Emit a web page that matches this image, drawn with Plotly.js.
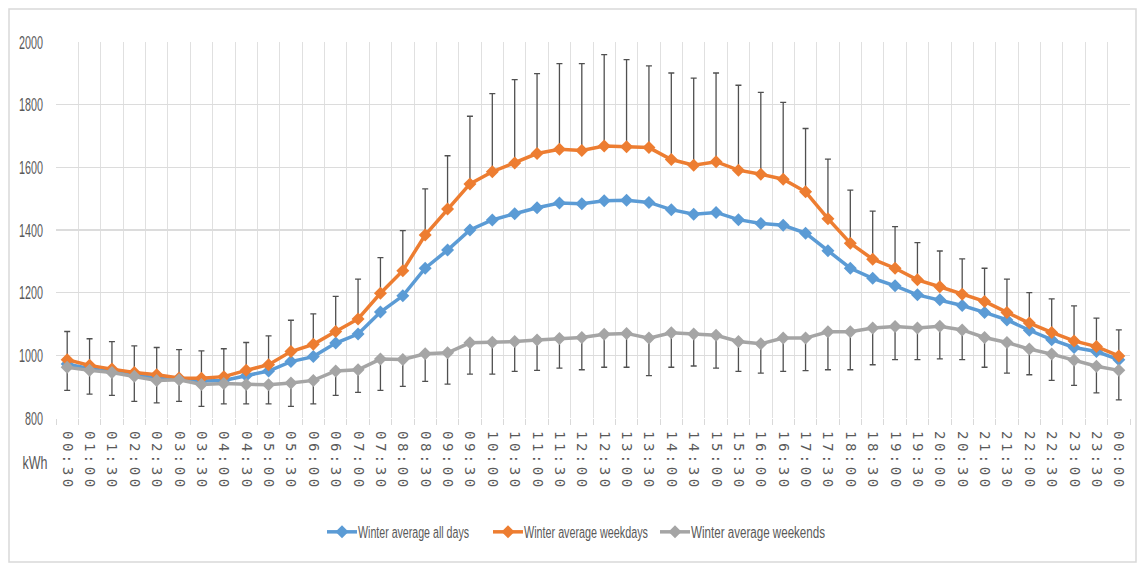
<!DOCTYPE html>
<html>
<head>
<meta charset="utf-8">
<script src="https://cdn.plot.ly/plotly-3.0.1.min.js"></script>
<style>
  html, body { margin: 0; padding: 0; background: #fff; }
  #chart { width: 1137px; height: 563px; }
  .xtick text { letter-spacing: 3.5px; }
</style>
</head>
<body>
<div id="chart"></div>
<script>
const times = ["00:30","01:00","01:30","02:00","02:30","03:00","03:30","04:00","04:30","05:00","05:30","06:00",
  "06:30","07:00","07:30","08:00","08:30","09:00","09:30","10:00","10:30","11:00","11:30","12:00",
  "12:30","13:00","13:30","14:00","14:30","15:00","15:30","16:00","16:30","17:00","17:30","18:00",
  "18:30","19:00","19:30","20:00","20:30","21:00","21:30","22:00","22:30","23:00","23:30","00:00"];

const allDays = [972,958,948,938,928,925,918,920,935,950,980,996,
  1039,1068,1138,1190,1278,1336,1400,1432,1452,1471,1486,1484,
  1493,1495,1488,1465,1450,1456,1433,1421,1415,1390,1334,1278,
  1246,1222,1193,1177,1159,1137,1113,1080,1050,1025,1012,986];

const weekdays = [986,968,956,945,938,928,927,932,952,970,1012,1035,
  1076,1116,1198,1270,1384,1467,1547,1586,1614,1644,1658,1654,
  1668,1666,1663,1625,1607,1618,1591,1578,1562,1522,1436,1358,
  1307,1278,1241,1219,1195,1172,1137,1103,1073,1046,1028,998];

const weekends = [962,952,945,933,920,922,907,910,907,906,912,920,
  950,954,988,987,1005,1008,1040,1042,1044,1049,1054,1057,
  1067,1070,1055,1072,1068,1064,1044,1037,1055,1055,1075,1075,
  1087,1092,1087,1093,1081,1057,1041,1020,1004,984,965,952];

// upper end of the weekday error bars (kWh)
const weekdaysUpper = [1076,1053,1044,1030,1025,1018,1014,1021,1041,1062,1112,1132,
  1188,1243,1312,1398,1531,1637,1763,1835,1880,1899,1931,1931,
  1960,1944,1924,1901,1885,1901,1862,1839,1807,1724,1626,1527,
  1460,1411,1360,1333,1308,1278,1243,1200,1180,1158,1119,1081];

// lower end of the weekend error bars (kWh)
const weekendsLower = [888,876,872,853,848,853,837,845,845,845,837,845,
  872,882,888,901,917,908,940,940,949,952,959,954,
  962,962,935,962,966,959,949,943,949,951,954,954,
  970,986,986,989,986,962,943,938,920,904,880,858];

const seriesNames = ["Winter average all days","Winter average weekdays","Winter average weekends"];
const colors = ["#5B9BD5","#ED7D31","#A5A5A5"];

const sans = "Liberation Sans, Arial, sans-serif";
const errColor = "#505050";
function base(name, y, color) {
  return {
    type: "scatter", mode: "lines+markers", x: times, y: y, name: name,
    line: { color: color, width: 3.5 },
    marker: { symbol: "diamond", size: 10, color: color }
  };
}

const t1 = base(seriesNames[0], allDays, colors[0]);
const t2 = base(seriesNames[1], weekdays, colors[1]);
t2.error_y = { type: "data", symmetric: false,
  array: weekdaysUpper.map((u, i) => u - weekdays[i]),
  arrayminus: weekdays.map(() => 0),
  color: errColor, thickness: 1.3, width: 3 };
const t3 = base(seriesNames[2], weekends, colors[2]);
t3.error_y = { type: "data", symmetric: false,
  array: weekends.map(() => 0),
  arrayminus: weekends.map((v, i) => v - weekendsLower[i]),
  color: errColor, thickness: 1.3, width: 3 };

const layout = {
  width: 1137, height: 563,
  margin: { l: 56, r: 7, t: 42, b: 145 },
  paper_bgcolor: "#fff", plot_bgcolor: "#fff",
  showlegend: true,
  legend: { orientation: "h", x: 0.5, xanchor: "center", y: -0.303, yanchor: "middle",
    font: { family: sans, size: 16, color: "#595959" },
    itemwidth: 30, tracegroupgap: 0 },
  xaxis: {
    type: "category", range: [-0.5, 47.5], tickson: "boundaries",
    tickangle: 90, ticks: "outside", ticklen: 6, tickcolor: "#d9d9d9",
    showgrid: true, gridcolor: "#e0e0e0", gridwidth: 1,
    showline: false, zeroline: false, ticklabelstandoff: 12,
    tickfont: { family: "DejaVu Sans Mono, monospace", size: 14, color: "#595959" }
  },
  yaxis: {
    range: [800, 2000], dtick: 200, tick0: 800,
    showgrid: true, gridcolor: "#dcdcdc", gridwidth: 1.3,
    zeroline: false, showline: false, ticks: "",
    ticklabelstandoff: 12,
    tickfont: { family: sans, size: 19, color: "#595959" }
  },
  annotations: [{
    text: "kWh", xref: "paper", yref: "paper",
    x: (35 - 56) / 1074, y: (418 - 462) / 376, xanchor: "center", yanchor: "middle",
    showarrow: false,
    font: { family: sans, size: 19, color: "#595959" }
  }],
  shapes: [{
    type: "rect", xref: "paper", yref: "paper",
    x0: (9 - 56) / 1074, x1: (1136 - 56) / 1074,
    y0: (418 - 562) / 376, y1: 1 + (42 - 9) / 376,
    line: { color: "#d9d9d9", width: 1.5 }, fillcolor: "rgba(0,0,0,0)", layer: "below"
  }]
};

function squeeze(el, len) {
  el.setAttribute("textLength", len);
  el.setAttribute("lengthAdjust", "spacingAndGlyphs");
}

Plotly.newPlot("chart", [t1, t2, t3], layout, { displayModeBar: false, staticPlot: true }).then(gd => {
  // narrow, tall y labels like the original condensed font
  gd.querySelectorAll(".ytick text").forEach(t => {
    squeeze(t, t.textContent.length === 4 ? 24 : 18);
  });
  gd.querySelectorAll(".annotation-text").forEach(t => squeeze(t, 25));
  // legend: condensed text and the original spacing
  const textLens = [111, 124, 134];
  const starts = [322, 488, 655];
  gd.querySelectorAll(".legend .traces").forEach((g, i) => {
    const txt = g.querySelector("text.legendtext");
    if (txt) { squeeze(txt, textLens[i]); txt.setAttribute("x", 36); }
    const m = /translate\(\s*([-\d.]+)[ ,]+([-\d.]+)\s*\)/.exec(g.getAttribute("transform") || "");
    const curY = m ? parseFloat(m[2]) : 0;
    const ctm = g.parentNode.getScreenCTM();
    const svgCtm = gd.querySelector(".main-svg").getScreenCTM();
    const localX = starts[i] - (ctm.e - svgCtm.e);
    g.setAttribute("transform", `translate(${localX},${curY})`);
  });
  const bg = gd.querySelector(".legend rect.bg");
  if (bg) bg.setAttribute("width", 0);
});
</script>
</body>
</html>
